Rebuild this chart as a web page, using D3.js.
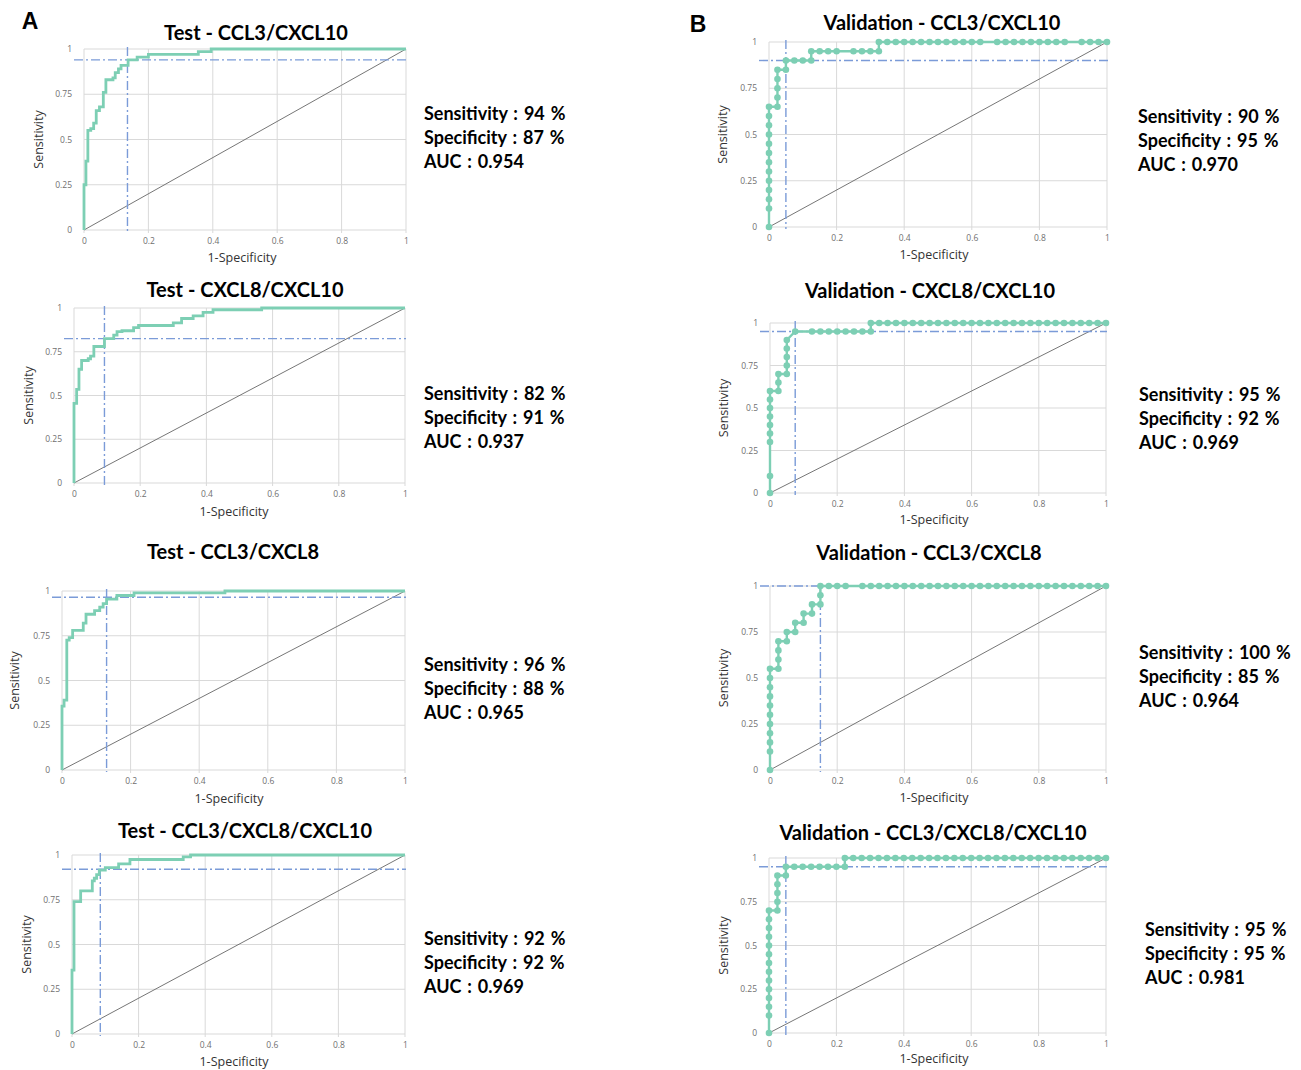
<!DOCTYPE html>
<html><head><meta charset="utf-8">
<script src="https://cdn.jsdelivr.net/npm/d3@7"></script>
<style>
body{margin:0;background:#fff;}
svg{display:block;}
</style></head>
<body>
<svg id="chart" width="1301" height="1070"></svg>
<script>
// ---------------- DATA ----------------
const titles = ["Test - CCL3/CXCL10", "Test - CXCL8/CXCL10", "Test - CCL3/CXCL8", "Test - CCL3/CXCL8/CXCL10",
  "Validation - CCL3/CXCL10", "Validation - CXCL8/CXCL10", "Validation - CCL3/CXCL8", "Validation - CCL3/CXCL8/CXCL10"];
const sensitivity = [94, 82, 96, 92, 90, 95, 100, 95];
const specificity = [87, 91, 88, 92, 95, 92, 85, 95];
const aucValues = ["0.954", "0.937", "0.965", "0.969", "0.970", "0.969", "0.964", "0.981"];
const cutFpr = [0.135, 0.092, 0.13, 0.085, 0.05, 0.075, 0.15, 0.05];
const cutTpr = [0.94, 0.825, 0.965, 0.92, 0.90, 0.95, 1.0, 0.95];
const xTicks = [0, 0.2, 0.4, 0.6, 0.8, 1];
const yTicks = [0, 0.25, 0.5, 0.75, 1];
const panelLetters = ["A", "B"];

// Test ROC curves (step points: [1-specificity, sensitivity])
const rocTestCCL3_CXCL10 = [[0,0],[0,0.25],[0.006,0.38],[0.012,0.55],[0.021,0.56],[0.03,0.59],[0.038,0.66],[0.048,0.68],[0.06,0.76],[0.068,0.83],[0.09,0.84],[0.097,0.87],[0.107,0.89],[0.115,0.91],[0.137,0.94],[0.165,0.955],[0.2,0.97],[0.355,0.985],[0.395,1],[1,1]];
const rocTestCXCL8_CXCL10 = [[0,0],[0,0.455],[0.008,0.535],[0.015,0.65],[0.023,0.70],[0.043,0.71],[0.05,0.725],[0.06,0.78],[0.092,0.825],[0.12,0.845],[0.13,0.865],[0.145,0.87],[0.18,0.888],[0.195,0.90],[0.30,0.915],[0.325,0.94],[0.36,0.955],[0.39,0.975],[0.42,0.99],[0.567,1],[1,1]];
const rocTestCCL3_CXCL8 = [[0,0],[0,0.357],[0.006,0.39],[0.014,0.726],[0.021,0.74],[0.031,0.78],[0.062,0.82],[0.07,0.87],[0.095,0.89],[0.11,0.91],[0.12,0.93],[0.13,0.955],[0.16,0.975],[0.21,0.99],[0.475,1],[1,1]];
const rocTestAll = [[0,0],[0,0.357],[0.006,0.74],[0.026,0.80],[0.061,0.855],[0.067,0.87],[0.074,0.89],[0.082,0.915],[0.1,0.93],[0.14,0.95],[0.174,0.975],[0.334,0.99],[0.356,1],[1,1]];

// Validation ROC curves (every point is drawn as a dot)
const rocValCCL3_CXCL10 = [[0,0],[0,0.1],[0,0.15],[0,0.2],[0,0.25],[0,0.3],[0,0.35],[0,0.4],[0,0.45],[0,0.5],[0,0.55],[0,0.6],[0,0.65],
  [0.025,0.65],[0.025,0.7],[0.025,0.75],[0.025,0.8],[0.025,0.85],[0.05,0.85],[0.05,0.9],[0.075,0.9],[0.1,0.9],[0.125,0.9],[0.125,0.95],
  [0.15,0.95],[0.175,0.95],[0.2,0.95],[0.25,0.95],[0.275,0.95],[0.3,0.95],[0.325,0.95],[0.325,1],
  [0.35,1],[0.375,1],[0.4,1],[0.425,1],[0.45,1],[0.475,1],[0.5,1],[0.525,1],[0.55,1],[0.575,1],[0.6,1],[0.625,1],
  [0.675,1],[0.7,1],[0.725,1],[0.75,1],[0.775,1],[0.8,1],[0.825,1],[0.85,1],[0.875,1],[0.925,1],[0.95,1],[0.975,1],[1,1]];
const rocValCXCL8_CXCL10 = [[0,0],[0,0.1],[0,0.3],[0,0.35],[0,0.4],[0,0.45],[0,0.5],[0,0.55],[0,0.6],[0.025,0.6],[0.025,0.65],[0.025,0.7],
  [0.05,0.7],[0.05,0.75],[0.05,0.8],[0.05,0.85],[0.05,0.9],[0.075,0.95],[0.125,0.95],[0.15,0.95],[0.175,0.95],[0.2,0.95],[0.225,0.95],
  [0.25,0.95],[0.275,0.95],[0.3,0.95],[0.3,1],[0.325,1],[0.35,1],[0.375,1],[0.4,1],[0.425,1],[0.45,1],[0.475,1],[0.5,1],[0.525,1],
  [0.55,1],[0.575,1],[0.6,1],[0.625,1],[0.65,1],[0.675,1],[0.7,1],[0.725,1],[0.75,1],[0.775,1],[0.8,1],[0.825,1],[0.85,1],[0.875,1],
  [0.9,1],[0.925,1],[0.95,1],[0.975,1],[1,1]];
const rocValCCL3_CXCL8 = [[0,0],[0,0.1],[0,0.15],[0,0.2],[0,0.25],[0,0.3],[0,0.35],[0,0.4],[0,0.45],[0,0.5],[0,0.55],[0.025,0.55],
  [0.025,0.6],[0.025,0.65],[0.025,0.7],[0.05,0.7],[0.05,0.75],[0.075,0.75],[0.075,0.8],[0.1,0.8],[0.1,0.85],[0.125,0.85],[0.125,0.9],
  [0.15,0.9],[0.15,0.95],[0.15,1],[0.175,1],[0.2,1],[0.225,1],[0.275,1],[0.3,1],[0.325,1],[0.35,1],[0.375,1],[0.4,1],[0.425,1],
  [0.45,1],[0.475,1],[0.5,1],[0.525,1],[0.55,1],[0.575,1],[0.6,1],[0.625,1],[0.65,1],[0.675,1],[0.7,1],[0.725,1],[0.75,1],[0.775,1],
  [0.8,1],[0.825,1],[0.85,1],[0.875,1],[0.9,1],[0.925,1],[0.95,1],[0.975,1],[1,1]];
const rocValAll = [[0,0],[0,0.1],[0,0.15],[0,0.2],[0,0.25],[0,0.3],[0,0.35],[0,0.4],[0,0.45],[0,0.5],[0,0.55],[0,0.6],[0,0.65],[0,0.7],
  [0.025,0.7],[0.025,0.75],[0.025,0.8],[0.025,0.85],[0.025,0.9],[0.05,0.9],[0.05,0.95],[0.075,0.95],[0.1,0.95],[0.125,0.95],[0.15,0.95],
  [0.175,0.95],[0.2,0.95],[0.225,0.95],[0.225,1],[0.25,1],[0.275,1],[0.3,1],[0.325,1],[0.35,1],[0.375,1],[0.4,1],[0.425,1],[0.45,1],
  [0.475,1],[0.5,1],[0.525,1],[0.55,1],[0.575,1],[0.6,1],[0.625,1],[0.65,1],[0.675,1],[0.7,1],[0.725,1],[0.75,1],[0.775,1],[0.8,1],
  [0.825,1],[0.85,1],[0.875,1],[0.9,1],[0.925,1],[0.95,1],[0.975,1],[1,1]];

const rocCurves = [rocTestCCL3_CXCL10, rocTestCXCL8_CXCL10, rocTestCCL3_CXCL8, rocTestAll,
  rocValCCL3_CXCL10, rocValCXCL8_CXCL10, rocValCCL3_CXCL8, rocValAll];
const isValidation = [false, false, false, false, true, true, true, true];

// ---------------- LAYOUT ----------------
const layout = [
  {x0:84, x1:406, yTop:49, yBot:230, titleX:256, titleY:40, axX:242, axY:262, sensX:38, statX:424, statY:113},
  {x0:74, x1:405, yTop:308, yBot:483, titleX:245, titleY:297, axX:234, axY:516, sensX:28, statX:424, statY:393},
  {x0:62, x1:405, yTop:591, yBot:770, titleX:233, titleY:559, axX:229, axY:803, sensX:14, statX:424, statY:664},
  {x0:72, x1:405, yTop:855, yBot:1034, titleX:245, titleY:838, axX:234, axY:1066, sensX:26, statX:424, statY:938},
  {x0:769, x1:1107, yTop:42, yBot:227, titleX:942, titleY:30, axX:934, axY:259, sensX:722, statX:1138, statY:116},
  {x0:770, x1:1106, yTop:323, yBot:493, titleX:930, titleY:298, axX:934, axY:524, sensX:723, statX:1139, statY:394},
  {x0:770, x1:1106, yTop:586, yBot:770, titleX:929, titleY:560, axX:934, axY:802, sensX:723, statX:1139, statY:652},
  {x0:769, x1:1106, yTop:858, yBot:1033, titleX:933, titleY:840, axX:934, axY:1063, sensX:723, statX:1145, statY:929}
];
const letterPos = [{x:30, y:29}, {x:698, y:32}];

const GREEN = "#7dcfb4", BLUE = "#7b9bd8", GRID = "#d9d9d9";
const titleFont = "Lato, 'Open Sans', sans-serif";

const svg = d3.select("#chart");

panelLetters.forEach((l, i) => {
  svg.append("text").attr("x", letterPos[i].x).attr("y", letterPos[i].y)
    .attr("text-anchor", "middle").attr("font-family", "Arial, 'Liberation Sans', sans-serif")
    .attr("font-weight", "bold").attr("font-size", 23).attr("fill", "#000").text(l);
});

titles.forEach((title, i) => {
  const L = layout[i];
  const x = d3.scaleLinear().domain([0, 1]).range([L.x0, L.x1]);
  const y = d3.scaleLinear().domain([0, 1]).range([L.yBot, L.yTop]);
  const g = svg.append("g");

  // gridlines
  g.selectAll(".vg").data(xTicks).join("line")
    .attr("x1", d => x(d)).attr("x2", d => x(d))
    .attr("y1", y(1)).attr("y2", y(0) + 3)
    .attr("stroke", GRID).attr("stroke-width", 1);
  g.selectAll(".hg").data(yTicks).join("line")
    .attr("x1", x(0)).attr("x2", x(1))
    .attr("y1", d => y(d)).attr("y2", d => y(d))
    .attr("stroke", GRID).attr("stroke-width", 1);

  // axes (labels only)
  const xa = g.append("g").attr("transform", `translate(0,${L.yBot})`)
    .call(d3.axisBottom(x).tickValues(xTicks).tickSize(0).tickPadding(8).tickFormat(d3.format("~g")));
  const ya = g.append("g").attr("transform", `translate(${L.x0},0)`)
    .call(d3.axisLeft(y).tickValues(yTicks).tickSize(0).tickPadding(12).tickFormat(d3.format("~g")));
  [xa, ya].forEach(a => {
    a.select(".domain").remove();
    a.selectAll("text").attr("font-family", "'Open Sans', sans-serif").attr("font-size", 8.5).attr("fill", "#707070");
  });

  // diagonal reference
  g.append("line").attr("x1", x(0)).attr("y1", y(0)).attr("x2", x(1)).attr("y2", y(1))
    .attr("stroke", "#666").attr("stroke-width", 0.9);

  // cutoff lines
  g.append("line").attr("x1", x(0) - 10).attr("x2", x(1) + 1)
    .attr("y1", y(cutTpr[i])).attr("y2", y(cutTpr[i]))
    .attr("stroke", BLUE).attr("stroke-width", 1.4).attr("stroke-dasharray", "9,3,2,3");
  g.append("line").attr("x1", x(cutFpr[i])).attr("x2", x(cutFpr[i]))
    .attr("y1", y(1) - 2).attr("y2", y(0) + 2)
    .attr("stroke", BLUE).attr("stroke-width", 1.4).attr("stroke-dasharray", "9,3,2,3");

  // ROC curve
  const pts = rocCurves[i];
  const line = d3.line().x(d => x(d[0])).y(d => y(d[1]))
    .curve(isValidation[i] ? d3.curveLinear : d3.curveStepAfter);
  g.append("path").datum(pts).attr("d", line).attr("fill", "none")
    .attr("stroke", GREEN).attr("stroke-width", isValidation[i] ? 2.4 : 2.8)
    .attr("stroke-linejoin", "miter");
  if (isValidation[i]) {
    g.selectAll(".dot").data(pts).join("circle")
      .attr("cx", d => x(d[0])).attr("cy", d => y(d[1])).attr("r", 3.3).attr("fill", GREEN);
  }

  // title
  g.append("text").attr("x", L.titleX).attr("y", L.titleY).attr("text-anchor", "middle")
    .attr("font-family", titleFont).attr("font-weight", "bold").attr("font-size", 20).attr("fill", "#000").text(title);

  // axis titles
  g.append("text").attr("x", L.axX).attr("y", L.axY).attr("text-anchor", "middle")
    .attr("font-family", "'Open Sans', sans-serif").attr("font-size", 12.5).attr("fill", "#333").text("1-Specificity");
  g.append("text").attr("transform", `translate(${L.sensX},${(L.yTop + L.yBot) / 2}) rotate(-90)`)
    .attr("text-anchor", "middle").attr("dominant-baseline", "central")
    .attr("font-family", "'Open Sans', sans-serif").attr("font-size", 12.5).attr("fill", "#333").text("Sensitivity");

  // stats
  const stats = [`Sensitivity : ${sensitivity[i]} %`, `Specificity : ${specificity[i]} %`, `AUC : ${aucValues[i]}`];
  g.selectAll(".stat").data(stats).join("text")
    .attr("x", L.statX).attr("y", (d, k) => L.statY + k * 24)
    .attr("dominant-baseline", "central")
    .attr("font-family", titleFont).attr("font-weight", "bold").attr("font-size", 18).attr("fill", "#000")
    .attr("word-spacing", 1.5)
    .text(d => d);
});
</script>
</body></html>
